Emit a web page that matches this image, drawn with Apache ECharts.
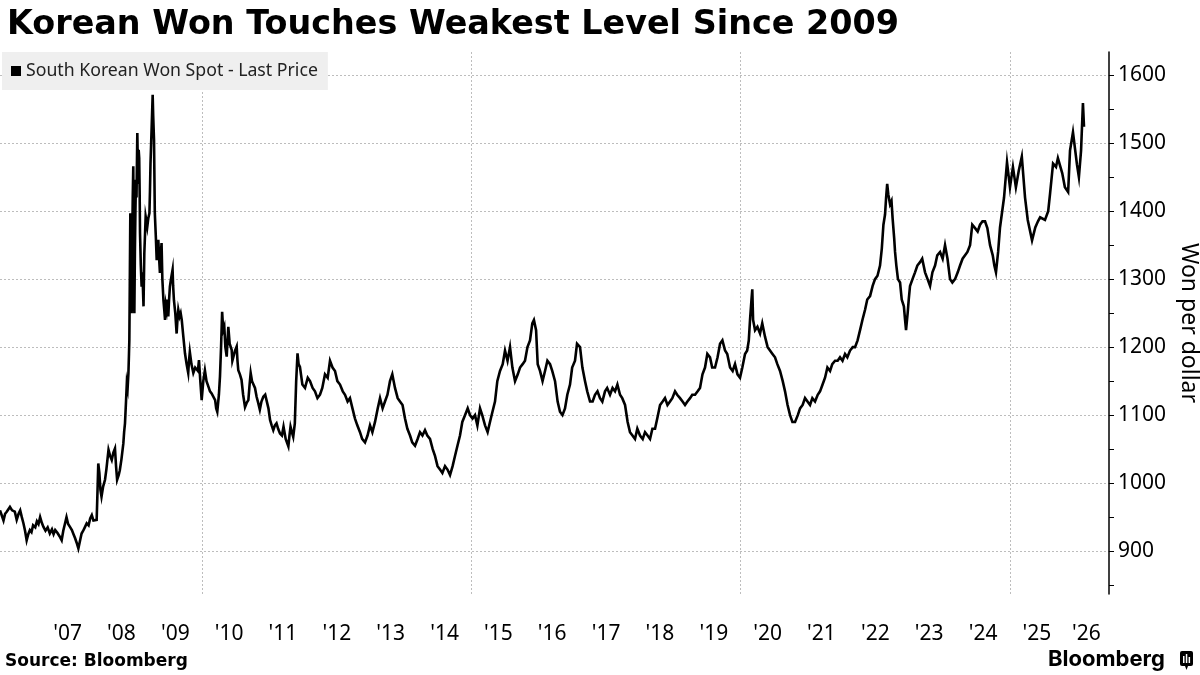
<!DOCTYPE html>
<html>
<head>
<meta charset="utf-8">
<script src="https://cdn.jsdelivr.net/npm/echarts@6/dist/echarts.min.js"></script>
<style>
  html, body { margin: 0; padding: 0; background: #fff; }
  #chart { width: 1200px; height: 675px; }
</style>
</head>
<body>
<div id="chart"></div>
<script>
// USD/KRW spot, [decimal year, won per dollar]
const won2006to2008 = [
  [2006.245, 960], [2006.28, 952], [2006.31, 945], [2006.34, 955], [2006.37, 958], [2006.43, 965],
  [2006.47, 960], [2006.52, 958], [2006.555, 946], [2006.59, 955], [2006.62, 960], [2006.65, 950],
  [2006.68, 941], [2006.71, 930], [2006.74, 916], [2006.77, 925], [2006.80, 931], [2006.83, 928],
  [2006.86, 938], [2006.90, 935], [2006.93, 944], [2006.96, 940], [2006.99, 950], [2007.02, 942],
  [2007.05, 936], [2007.09, 930], [2007.13, 935], [2007.17, 926], [2007.21, 932], [2007.24, 925],
  [2007.27, 931], [2007.31, 927], [2007.35, 922], [2007.39, 916], [2007.42, 930], [2007.45, 940],
  [2007.48, 950], [2007.51, 940], [2007.55, 935], [2007.58, 931], [2007.61, 925], [2007.64, 919],
  [2007.67, 912], [2007.70, 904], [2007.73, 915], [2007.76, 926], [2007.79, 930], [2007.82, 935],
  [2007.855, 941], [2007.89, 938], [2007.92, 948], [2007.95, 953], [2007.98, 945], [2008.01, 944],
  [2008.04, 946]
];
const won2008to2011 = [
  [2008.06, 1000], [2008.07, 1029], [2008.09, 1015], [2008.11, 990], [2008.13, 980], [2008.16, 995],
  [2008.195, 1005], [2008.22, 1020], [2008.26, 1049], [2008.29, 1040], [2008.32, 1034], [2008.35, 1045],
  [2008.38, 1051], [2008.40, 1025], [2008.42, 1005], [2008.45, 1012], [2008.47, 1019], [2008.50, 1035],
  [2008.535, 1058], [2008.55, 1075], [2008.566, 1088], [2008.585, 1120], [2008.60, 1147], [2008.615, 1140],
  [2008.63, 1162], [2008.64, 1190], [2008.647, 1211], [2008.655, 1290], [2008.665, 1397], [2008.672, 1280],
  [2008.68, 1330], [2008.69, 1250], [2008.70, 1350], [2008.71, 1420], [2008.72, 1466], [2008.73, 1330],
  [2008.74, 1250], [2008.75, 1340], [2008.76, 1400], [2008.77, 1446], [2008.78, 1420], [2008.795, 1515],
  [2008.81, 1440], [2008.82, 1490], [2008.83, 1478], [2008.838, 1430], [2008.845, 1368], [2008.86, 1320],
  [2008.875, 1289], [2008.89, 1310], [2008.91, 1260], [2008.925, 1338], [2008.94, 1370], [2008.95, 1392],
  [2008.965, 1385], [2008.98, 1377], [2009.0, 1390], [2009.02, 1397], [2009.03, 1430], [2009.04, 1471],
  [2009.06, 1520], [2009.08, 1571], [2009.09, 1540], [2009.105, 1505], [2009.12, 1397], [2009.14, 1360],
  [2009.155, 1328], [2009.17, 1345], [2009.185, 1358], [2009.20, 1330], [2009.215, 1309], [2009.23, 1335],
  [2009.245, 1353], [2009.26, 1300], [2009.28, 1269], [2009.295, 1255], [2009.31, 1240], [2009.325, 1262],
  [2009.34, 1255], [2009.355, 1270], [2009.37, 1245], [2009.385, 1270], [2009.40, 1289], [2009.42, 1300],
  [2009.45, 1314], [2009.46, 1290], [2009.475, 1269], [2009.50, 1250], [2009.525, 1220], [2009.54, 1240],
  [2009.556, 1255], [2009.58, 1245], [2009.60, 1250], [2009.62, 1240], [2009.65, 1215], [2009.68, 1191],
  [2009.71, 1175], [2009.74, 1162], [2009.755, 1180], [2009.77, 1193], [2009.80, 1175], [2009.835, 1162],
  [2009.87, 1170], [2009.897, 1171], [2009.92, 1165], [2009.94, 1181], [2009.965, 1150], [2009.99, 1122],
  [2010.02, 1150], [2010.05, 1166], [2010.08, 1150], [2010.115, 1142], [2010.145, 1135], [2010.175, 1132],
  [2010.21, 1130], [2010.24, 1122], [2010.26, 1110], [2010.28, 1105], [2010.31, 1130], [2010.33, 1157],
  [2010.35, 1200], [2010.37, 1252], [2010.39, 1225], [2010.41, 1230], [2010.43, 1200], [2010.455, 1186],
  [2010.47, 1210], [2010.485, 1230], [2010.51, 1205], [2010.547, 1196], [2010.56, 1180], [2010.58, 1186],
  [2010.61, 1195], [2010.64, 1201], [2010.655, 1180], [2010.67, 1166], [2010.70, 1160], [2010.73, 1152],
  [2010.76, 1130], [2010.795, 1112], [2010.825, 1118], [2010.857, 1122], [2010.88, 1145], [2010.90, 1162],
  [2010.925, 1150], [2010.95, 1152], [2010.98, 1140], [2011.01, 1127], [2011.04, 1118], [2011.07, 1108],
  [2011.10, 1120], [2011.135, 1127], [2011.17, 1130], [2011.20, 1132], [2011.23, 1110], [2011.26, 1093],
  [2011.29, 1085], [2011.32, 1078], [2011.35, 1085], [2011.38, 1088], [2011.41, 1080], [2011.445, 1073],
  [2011.48, 1070], [2011.51, 1083], [2011.55, 1065], [2011.60, 1054], [2011.62, 1070], [2011.64, 1083],
  [2011.665, 1075], [2011.69, 1068], [2011.72, 1088], [2011.745, 1150], [2011.77, 1191], [2011.79, 1175],
  [2011.815, 1171]
];
const won2011to2016 = [
  [2011.86, 1145], [2011.909, 1140], [2011.96, 1155], [2012.002, 1150], [2012.05, 1140], [2012.094, 1135],
  [2012.14, 1125], [2012.187, 1130], [2012.23, 1140], [2012.280, 1160], [2012.33, 1155], [2012.373, 1180],
  [2012.42, 1170], [2012.466, 1165], [2012.51, 1150], [2012.559, 1145], [2012.61, 1135], [2012.652, 1130],
  [2012.70, 1120], [2012.744, 1125], [2012.79, 1110], [2012.837, 1095], [2012.88, 1085], [2012.930, 1075],
  [2012.97, 1065], [2013.023, 1060], [2013.07, 1070], [2013.116, 1085], [2013.16, 1075], [2013.209, 1090],
  [2013.26, 1110], [2013.302, 1125], [2013.35, 1110], [2013.394, 1120], [2013.44, 1130], [2013.487, 1150],
  [2013.53, 1160], [2013.58, 1140], [2013.63, 1125], [2013.673, 1120], [2013.72, 1115], [2013.766, 1095],
  [2013.81, 1080], [2013.859, 1070], [2013.90, 1060], [2013.952, 1055], [2014.0, 1065], [2014.044, 1075],
  [2014.09, 1070], [2014.137, 1078], [2014.18, 1070], [2014.230, 1065], [2014.28, 1050], [2014.323, 1040],
  [2014.37, 1025], [2014.416, 1020], [2014.46, 1015], [2014.509, 1025], [2014.555, 1020], [2014.602, 1012],
  [2014.65, 1025], [2014.694, 1040], [2014.74, 1055], [2014.787, 1070], [2014.83, 1090], [2014.880, 1100],
  [2014.93, 1110], [2014.973, 1100], [2015.02, 1095], [2015.066, 1100], [2015.11, 1085], [2015.159, 1110],
  [2015.20, 1100], [2015.252, 1085], [2015.30, 1075], [2015.344, 1090], [2015.39, 1105], [2015.437, 1120],
  [2015.48, 1150], [2015.530, 1165], [2015.58, 1175], [2015.623, 1195], [2015.67, 1180], [2015.716, 1200],
  [2015.76, 1170], [2015.809, 1150], [2015.86, 1160], [2015.902, 1170], [2015.95, 1175], [2015.994, 1180],
  [2016.04, 1200], [2016.087, 1210], [2016.13, 1235], [2016.16, 1240], [2016.20, 1225], [2016.23, 1175],
  [2016.273, 1165], [2016.32, 1150], [2016.366, 1165], [2016.41, 1180], [2016.459, 1175], [2016.50, 1165],
  [2016.552, 1150], [2016.60, 1120], [2016.644, 1105], [2016.69, 1100], [2016.737, 1110], [2016.78, 1130],
  [2016.830, 1145], [2016.87, 1170], [2016.923, 1180], [2016.96, 1205]
];
const won2017to2021 = [
  [2017.016, 1200], [2017.06, 1170], [2017.109, 1150], [2017.15, 1135], [2017.202, 1120], [2017.25, 1120],
  [2017.294, 1130], [2017.34, 1135], [2017.387, 1125], [2017.43, 1120], [2017.480, 1135], [2017.52, 1140],
  [2017.573, 1130], [2017.62, 1140], [2017.666, 1135], [2017.71, 1145], [2017.759, 1130], [2017.80, 1125],
  [2017.852, 1115], [2017.90, 1090], [2017.944, 1075], [2017.99, 1070], [2018.037, 1065], [2018.08, 1080],
  [2018.130, 1070], [2018.18, 1065], [2018.223, 1075], [2018.27, 1070], [2018.316, 1065], [2018.36, 1080],
  [2018.409, 1080], [2018.45, 1095], [2018.502, 1115], [2018.55, 1120], [2018.594, 1125], [2018.64, 1115],
  [2018.687, 1120], [2018.73, 1125], [2018.780, 1135], [2018.82, 1130], [2018.873, 1125], [2018.92, 1120],
  [2018.966, 1115], [2019.01, 1120], [2019.059, 1125], [2019.10, 1130], [2019.152, 1130], [2019.20, 1135],
  [2019.244, 1140], [2019.29, 1160], [2019.337, 1170], [2019.38, 1190], [2019.430, 1185], [2019.47, 1170],
  [2019.523, 1170], [2019.57, 1185], [2019.616, 1205], [2019.66, 1210], [2019.709, 1195], [2019.75, 1190],
  [2019.802, 1170], [2019.85, 1165], [2019.894, 1175], [2019.94, 1160], [2019.987, 1155], [2020.03, 1170],
  [2020.080, 1190], [2020.12, 1195], [2020.15, 1210], [2020.173, 1240], [2020.20, 1270], [2020.215, 1285],
  [2020.23, 1240], [2020.266, 1225], [2020.31, 1230], [2020.359, 1220], [2020.40, 1235], [2020.452, 1215],
  [2020.50, 1200], [2020.544, 1195], [2020.59, 1190], [2020.637, 1185], [2020.68, 1175], [2020.730, 1165],
  [2020.78, 1150], [2020.823, 1135], [2020.87, 1115], [2020.916, 1100], [2020.96, 1090], [2021.009, 1090]
];
const won2021to2026 = [
  [2021.06, 1100], [2021.102, 1110], [2021.15, 1115], [2021.194, 1125], [2021.24, 1120], [2021.287, 1115],
  [2021.33, 1125], [2021.380, 1120], [2021.43, 1130], [2021.473, 1135], [2021.52, 1145], [2021.566, 1155],
  [2021.61, 1170], [2021.659, 1165], [2021.70, 1175], [2021.752, 1180], [2021.80, 1180], [2021.844, 1185],
  [2021.89, 1180], [2021.937, 1190], [2021.98, 1185], [2022.030, 1195], [2022.08, 1200], [2022.123, 1200],
  [2022.17, 1210], [2022.216, 1225], [2022.26, 1240], [2022.309, 1255], [2022.35, 1270], [2022.402, 1275],
  [2022.45, 1290], [2022.494, 1300], [2022.54, 1305], [2022.587, 1320], [2022.62, 1345], [2022.65, 1380],
  [2022.680, 1395], [2022.70, 1420], [2022.72, 1440], [2022.74, 1425], [2022.773, 1410], [2022.80, 1415],
  [2022.82, 1390], [2022.85, 1360], [2022.866, 1340], [2022.89, 1320], [2022.92, 1300], [2022.959, 1295],
  [2022.99, 1270], [2023.03, 1260], [2023.052, 1240], [2023.07, 1225], [2023.10, 1250], [2023.12, 1270],
  [2023.144, 1290], [2023.19, 1300], [2023.237, 1310], [2023.28, 1320], [2023.330, 1325], [2023.37, 1330],
  [2023.423, 1310], [2023.47, 1300], [2023.516, 1290], [2023.56, 1310], [2023.609, 1320], [2023.65, 1335],
  [2023.702, 1340], [2023.75, 1330], [2023.794, 1350], [2023.84, 1330], [2023.887, 1300], [2023.93, 1295],
  [2023.980, 1300], [2024.03, 1310], [2024.073, 1320], [2024.12, 1330], [2024.166, 1335], [2024.21, 1340],
  [2024.259, 1350], [2024.30, 1380], [2024.352, 1375], [2024.40, 1370], [2024.444, 1380], [2024.49, 1385],
  [2024.537, 1385], [2024.58, 1375], [2024.630, 1350], [2024.68, 1335], [2024.71, 1320], [2024.74, 1310],
  [2024.78, 1340], [2024.815, 1376], [2024.89, 1420], [2024.945, 1472], [2025.0, 1435], [2025.055, 1465],
  [2025.11, 1435], [2025.165, 1460], [2025.22, 1480], [2025.28, 1420], [2025.33, 1387], [2025.41, 1357],
  [2025.47, 1376], [2025.52, 1385], [2025.56, 1391], [2025.65, 1387], [2025.71, 1400], [2025.745, 1426],
  [2025.80, 1470], [2025.855, 1465], [2025.89, 1478], [2025.97, 1456], [2026.02, 1435], [2026.08, 1428],
  [2026.115, 1489], [2026.17, 1516], [2026.245, 1468], [2026.28, 1450], [2026.32, 1489], [2026.355, 1559],
  [2026.375, 1524]
];

const yearLabelPos = [2007.5, 2008.5, 2009.5, 2010.5, 2011.5, 2012.5, 2013.5, 2014.5, 2015.5, 2016.5,
  2017.5, 2018.5, 2019.5, 2020.5, 2021.5, 2022.5, 2023.5, 2024.5, 2025.5, 2026.42];
const yearGridPos = [2010, 2015, 2020, 2025];
const yTicks = [850, 900, 950, 1000, 1050, 1100, 1150, 1200, 1250, 1300, 1350, 1400, 1450, 1500, 1550, 1600];
const yLabels = [900, 1000, 1100, 1200, 1300, 1400, 1500, 1600];

const seriesData = [].concat(won2006to2008, won2008to2011, won2011to2016, won2017to2021, won2021to2026);

const myChart = echarts.init(document.getElementById("chart"));
const option = {
  animation: false,
  backgroundColor: "#fff",
  title: {
    text: "Korean Won Touches Weakest Level Since 2009",
    left: 2,
    top: 4,
    textStyle: {
      fontFamily: "DejaVu Sans",
      fontWeight: "bold",
      fontSize: 33.4,
      color: "#000",
    },
  },
  legend: {
    left: 2,
    top: 52,
    padding: [10, 10, 10, 9],
    backgroundColor: "#efefef",
    icon: "rect",
    itemWidth: 10,
    itemHeight: 10,
    itemGap: 5,
    textStyle: {
      fontFamily: "Noto Sans",
      fontSize: 17.7,
      lineHeight: 18,
      color: "#222",
    },
    data: ["South Korean Won Spot - Last Price"],
  },
  grid: {
    left: 0,
    right: 91,
    top: 52,
    bottom: 81,
    containLabel: false,
    outerBoundsMode: "none",
  },
  xAxis: {
    type: "value",
    min: 2006.245,
    max: 2026.839,
    axisLine: { show: false },
    axisTick: { show: false, customValues: yearGridPos },
    axisLabel: {
      customValues: yearLabelPos,
      formatter: (v) => "'" + String(Math.floor(v)).slice(2),
      fontFamily: "Noto Sans",
      fontSize: 21,
      color: "#000",
      margin: 30,
    },
    splitLine: {
      show: true,
      lineStyle: { color: "#bdbdbd", type: [2, 2], width: 1 },
    },
  },
  yAxis: [
    {
      type: "value",
      position: "right",
      min: 837,
      max: 1634,
      axisLine: { show: true, lineStyle: { color: "#000", width: 1.5 } },
      axisTick: { show: true, customValues: yTicks, length: 5, lineStyle: { color: "#000", width: 1 } },
      axisLabel: {
        customValues: yLabels,
        formatter: (v) => String(v),
        fontFamily: "Noto Sans",
        fontSize: 21,
        color: "#000",
        margin: 9,
      },
      splitLine: { show: false },
      name: "Won per dollar",
      nameLocation: "middle",
      nameRotate: -90,
      nameGap: 66,
      nameTextStyle: { fontFamily: "Noto Sans", fontSize: 23, color: "#000" },
    },
    {
      type: "value",
      position: "right",
      min: 837,
      max: 1634,
      axisLine: { show: false },
      axisTick: { show: false, customValues: yLabels },
      axisLabel: { show: false },
      splitLine: {
        show: true,
        lineStyle: { color: "#bdbdbd", type: [2, 2], width: 1 },
      },
    },
  ],
  series: [
    {
      name: "South Korean Won Spot - Last Price",
      type: "line",
      yAxisIndex: 0,
      data: seriesData,
      showSymbol: false,
      lineStyle: { color: "#000", width: 2.6, join: "miter" },
      itemStyle: { color: "#000" },
      z: 3,
    },
  ],
  graphic: [
    {
      type: "text",
      left: 5,
      top: 653,
      style: {
        text: "Source: Bloomberg",
        font: "bold 17px 'DejaVu Sans'",
        fill: "#000",
      },
    },
    {
      type: "text",
      left: 1048,
      top: 648,
      style: {
        text: "Bloomberg",
        font: "bold 22px Inter",
        fill: "#000",
      },
    },
    {
      type: "group",
      left: 1180,
      top: 651,
      children: [
        { type: "rect", shape: { x: 0, y: 0, width: 13, height: 15, r: 2 }, style: { fill: "#000" } },
        { type: "polygon", shape: { points: [[5, 15], [8, 15], [6.5, 19]] }, style: { fill: "#000" } },
        { type: "rect", shape: { x: 3, y: 5, width: 1.5, height: 7 }, style: { fill: "#fff" } },
        { type: "rect", shape: { x: 5.8, y: 3, width: 1.5, height: 9 }, style: { fill: "#fff" } },
        { type: "rect", shape: { x: 8.6, y: 6, width: 1.5, height: 6 }, style: { fill: "#fff" } },
      ],
    },
  ],
};
myChart.setOption(option);
</script>
</body>
</html>
